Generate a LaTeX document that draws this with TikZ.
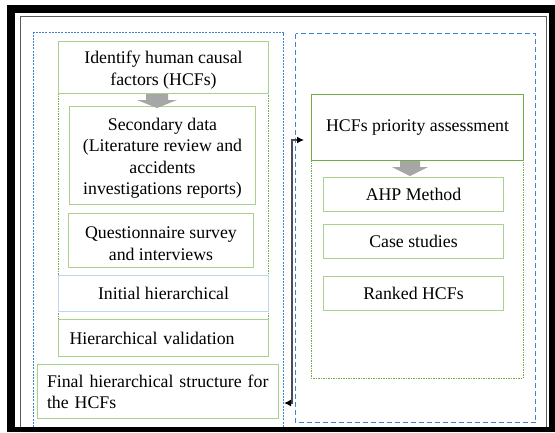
\documentclass[tikz,border=0pt]{standalone}
\usepackage{fontspec}
\setmainfont{Liberation Serif}
\usepackage{tikz}
\usetikzlibrary{arrows.meta}

\definecolor{lightgreen}{HTML}{A9D18E}
\definecolor{darkgreen}{HTML}{70AD47}
\definecolor{dashblue}{HTML}{3E85D0}
\definecolor{lightblue}{HTML}{BDD7EE}
\definecolor{arrowgray}{HTML}{A6A6A6}
\newcommand{\toppad}{\rule{0pt}{18pt}}

\begin{document}
\begin{tikzpicture}[x=1pt,y=-1pt]
                \tikzstyle{box}=[draw=lightgreen, line width=1pt, fill=white, align=center, anchor=north west, inner sep=0pt, font=\fontsize{17.8}{21.3}\selectfont]
                \tikzstyle{group}=[draw=dashblue, line width=1pt]
                \tikzstyle{subgroup}=[draw=darkgreen, line width=0.8pt, dash pattern=on 1.5pt off 1pt]
                \tikzstyle{blockarrow}=[fill=arrowgray]
                \tikzstyle{link}=[draw=gray!60!black, line width=1.3pt, {Latex[black,length=7pt,width=7pt]}-{Latex[black,length=7pt,width=7pt]}]

                \useasboundingbox (0,0) rectangle (555,432);
                % frame
                \fill[black] (7,5) rectangle (555,432);
                \fill[white] (15,13) rectangle (549,427);
                \draw[gray!70!black, line width=1pt] (20.5,427) -- (20.5,16.5) -- (546.5,16.5) -- (546.5,427);

                % dashed groups
                \draw[group, dash pattern=on 2pt off 1.2pt] (33.5,427) -- (33.5,32.5) -- (283.5,32.5) -- (283.5,427);
                \draw[group, dash pattern=on 5pt off 3pt] (295.5,33.5) rectangle (535.5,422.5);
                \draw[subgroup] (58,93) rectangle (268,356);
                \draw[subgroup] (311,160) rectangle (523,378);

                % left column
                \node[box, minimum width=210pt, minimum height=52pt] (identify) at (58,41) {\toppad Identify human causal\\factors (HCFs)};
                \node[box, minimum width=186pt, minimum height=98pt] (secondary) at (69,106) {\toppad Secondary data\\(Literature review and\\accidents\\investigations reports)};
                \node[box, minimum width=185pt, minimum height=54pt] (survey) at (68,213) {\toppad Questionnaire survey\\and interviews};
                \node[box, draw=lightblue, minimum width=210pt, minimum height=36pt] (initial) at (58,275) {Initial hierarchical};
                \node[box, align=left, text width=188pt, inner xsep=11pt, minimum height=37pt] (validation) at (58,319) {Hierarchical validation};
                \node[box, align=left, text width=222pt, inner xsep=9.5pt, minimum height=54pt] (final) at (37,364) {Final hierarchical structure for\\the HCFs};

                % right column
                \node[box, draw=darkgreen, line width=1.2pt, minimum width=212pt, minimum height=66pt] (priority) at (311,94) {HCFs priority assessment};
                \foreach \name/\ytop/\txt in {ahp/177/AHP Method, cases/224/Case studies, ranked/276/Ranked HCFs}
                \node[box, minimum width=180pt, minimum height=34pt] (\name) at (323,\ytop) {\txt};

                % block arrows
                \fill[blockarrow] (146,94) -- (168,94) -- (168,100) -- (177,100) -- (157,108) -- (137,100) -- (146,100) -- cycle;
                \fill[blockarrow] (400,161) -- (420,161) -- (420,167) -- (428,167) -- (410,176) -- (392,167) -- (400,167) -- cycle;

                % connector
                \coordinate (fromfinal) at (284,403);
                \coordinate (riser) at (292,140);
                \coordinate (topriority) at (304,140);
                \path[link] (fromfinal) -| (riser) -- (topriority);
            \end{tikzpicture}
\end{document}
